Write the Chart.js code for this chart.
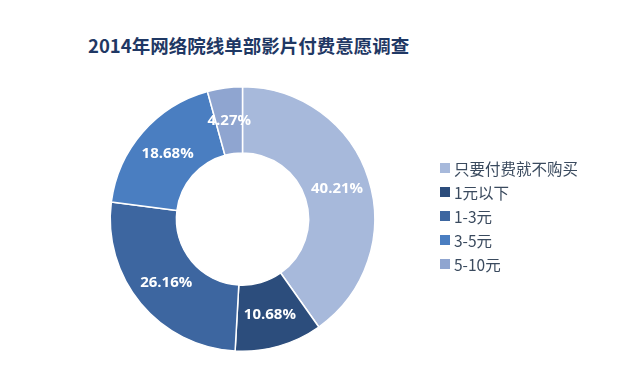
<!DOCTYPE html>
<html><head><meta charset="utf-8">
<script src="https://cdn.jsdelivr.net/npm/chart.js@4.4.1/dist/chart.umd.min.js"></script>
<style>
html,body{margin:0;padding:0;background:#fff;}
#wrap{position:relative;width:640px;height:390px;}
#title{position:absolute;left:88px;top:32px;font-family:"Noto Sans CJK SC",sans-serif;font-weight:bold;font-size:18.5px;color:#1f3864;white-space:nowrap;letter-spacing:0px;}
canvas{position:absolute;left:0;top:0;}
</style></head>
<body>
<div id="wrap">
<div id="title">2014年网络院线单部影片付费意愿调查</div>
<canvas id="c" width="640" height="390"></canvas>
</div>
<script>
const categories = ["只要付费就不购买", "1元以下", "1-3元", "3-5元", "5-10元"];
const shares = [40.21, 10.68, 26.16, 18.68, 4.27];
const sliceColors = ["#a7b9db", "#2c4d7c", "#3d66a0", "#4a7ec1", "#8fa5d0"];

const labelPlugin = {
  id: 'sliceLabels',
  afterDatasetsDraw(chart) {
    const ctx = chart.ctx;
    const meta = chart.getDatasetMeta(0);
    ctx.save();
    ctx.font = 'bold 15px "Open Sans", "DejaVu Sans", sans-serif';
    ctx.fillStyle = '#ffffff';
    ctx.textAlign = 'center';
    ctx.textBaseline = 'middle';
    meta.data.forEach((arc, i) => {
      const p = arc.tooltipPosition();
      ctx.fillText(shares[i].toFixed(2) + '%', p.x, p.y);
    });
    ctx.restore();
  }
};

const legendPlugin = {
  id: 'sideLegend',
  afterDraw(chart) {
    const ctx = chart.ctx;
    ctx.save();
    ctx.font = '15.5px "Noto Sans CJK SC", sans-serif';
    ctx.textBaseline = 'middle';
    const x0 = 440, y0 = 168, step = 24;
    chart.data.labels.forEach((lab, i) => {
      const y = y0 + i * step;
      ctx.fillStyle = chart.data.datasets[0].backgroundColor[i];
      ctx.fillRect(x0, y - 5, 10, 10);
      ctx.fillStyle = '#3a4a5e';
      ctx.fillText(lab, x0 + 14, y + 1);
    });
    ctx.restore();
  }
};

new Chart(document.getElementById('c'), {
  type: 'doughnut',
  data: {
    labels: categories,
    datasets: [{
      data: shares,
      backgroundColor: sliceColors,
      borderColor: '#ffffff',
      borderWidth: 1.5
    }]
  },
  options: {
    responsive: false,
    animation: false,
    cutout: '50%',
    layout: { padding: { top: 86, bottom: 38, left: 109, right: 264 } },
    plugins: { legend: { display: false }, tooltip: { enabled: false } }
  },
  plugins: [labelPlugin, legendPlugin]
});
</script>
</body></html>
